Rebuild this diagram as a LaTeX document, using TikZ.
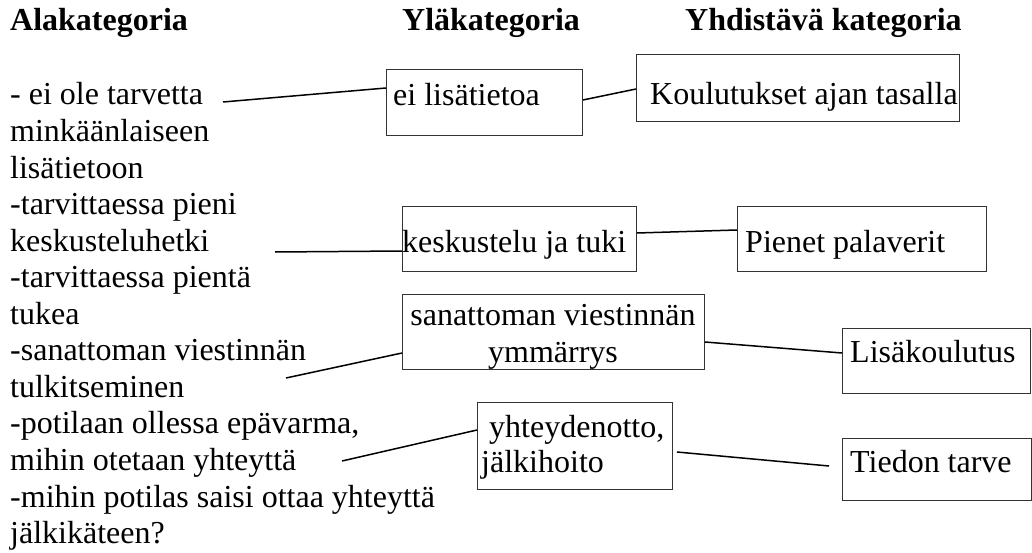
\documentclass[tikz,border=0pt]{standalone}
\usepackage{fontspec}
\setmainfont{Liberation Serif}
\begin{document}
\begin{tikzpicture}[x=1pt,y=-1pt,
  bx/.style={draw=black!80, line width=0.9pt, anchor=north west, inner sep=0pt},
  txt/.style={anchor=base west, inner sep=0pt, font=\fontsize{32}{36.55}\selectfont},
  hdr/.style={anchor=base west, inner sep=0pt, font=\fontsize{32}{36.55}\selectfont\bfseries},
  conn/.style={draw=black, line width=1.5pt}]
\fill[white] (0,0) rectangle (1032,553);
\useasboundingbox (0,0) rectangle (1032,553);

% headers
\node[hdr] (h1) at (10,31) {Alakategoria};
\node[hdr] (h2) at (402,31) {Yläkategoria};
\node[hdr] (h3) at (685,31) {Yhdistävä kategoria};

% left list
\node[txt] (list) at (10,105) {\begin{tabular}[t]{@{}l@{}}
- ei ole tarvetta\\
minkäänlaiseen\\
lisätietoon\\
-tarvittaessa pieni\\
keskusteluhetki\\
-tarvittaessa pientä\\
tukea\\
-sanattoman viestinnän\\
tulkitseminen\\
-potilaan ollessa epävarma,\\
mihin otetaan yhteyttä\\
-mihin potilas saisi ottaa yhteyttä\\
jälkikäteen?
\end{tabular}};

% boxes
\node[bx, minimum width=196pt, minimum height=66pt] (ei) at (386,69) {};
\node[bx, minimum width=323pt, minimum height=67pt] (koul) at (636,54) {};
\node[bx, minimum width=234pt, minimum height=65pt] (kesk) at (402,206) {};
\node[bx, minimum width=249pt, minimum height=65pt] (pien) at (737,206) {};
\node[bx, minimum width=302pt, minimum height=75pt] (san) at (402,294) {};
\node[bx, minimum width=188pt, minimum height=65pt] (lisa) at (842,328) {};
\node[bx, minimum width=195pt, minimum height=87pt] (yht) at (477,402) {};
\node[bx, minimum width=189pt, minimum height=62pt] (tied) at (842,438) {};

% box texts
\node[txt] (tei) at (393,106) {ei lisätietoa};
\node[txt] (tkoul) at (650,105) {Koulutukset ajan tasalla};
\node[txt] (tkesk) at (402,252) {keskustelu ja tuki};
\node[txt] (tpien) at (745,252) {Pienet palaverit};
\node[txt, anchor=base] (tsan) at (553,325) {\fontsize{32}{37}\selectfont\begin{tabular}[t]{@{}c@{}}sanattoman viestinnän\\ ymmärrys\end{tabular}};
\node[txt] (tlisa) at (850,362) {Lisäkoulutus};
\node[txt] (tyht) at (481,437) {\fontsize{32}{35.5}\selectfont\begin{tabular}[t]{@{}l@{}}\ yhteydenotto,\\jälkihoito\end{tabular}};
\node[txt] (ttied) at (850,472) {Tiedon tarve};

% free ends of connectors in the list
\coordinate (c1) at (223,102);
\coordinate (c2) at (275,252);
\coordinate (c3) at (286,378);
\coordinate (c4) at (342,461);

% connectors
\draw[conn] (c1) -- ([yshift=-19pt]ei.north west);
\draw[conn] ([yshift=-31pt]ei.north east) -- ([yshift=-35pt]koul.north west);
\draw[conn] (c2) -- ([yshift=-45pt]kesk.north west);
\draw[conn] ([yshift=-27pt]kesk.north east) -- ([yshift=-24pt]pien.north west);
\draw[conn] (c3) -- ([yshift=-59pt]san.north west);
\draw[conn] ([yshift=-48pt]san.north east) -- ([yshift=-25pt]lisa.north west);
\draw[conn] (c4) -- ([yshift=-28pt]yht.north west);
\draw[conn] ([xshift=4pt,yshift=-50pt]yht.north east) -- ([xshift=-13pt,yshift=-28pt]tied.north west);
\end{tikzpicture}
\end{document}
